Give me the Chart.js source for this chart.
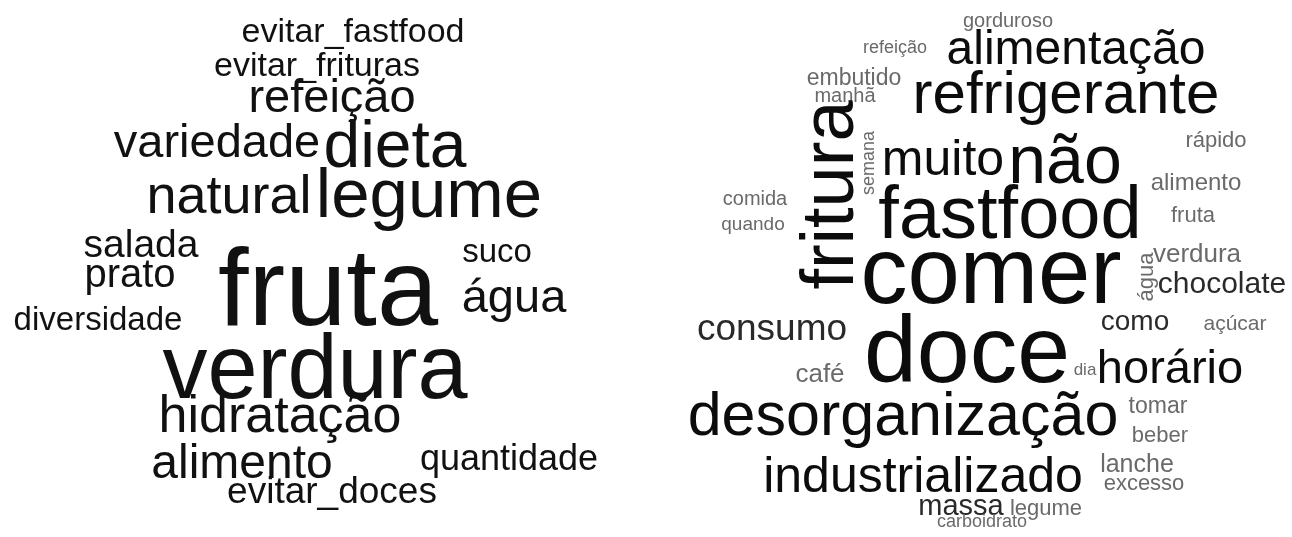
<!DOCTYPE html>
<html>
<head>
<meta charset="utf-8">
<script src="https://cdn.jsdelivr.net/npm/chart.js@4"></script>
<style>
  html, body { margin: 0; padding: 0; background: #fff; }
  #wrap { width: 1292px; height: 537px; }
</style>
</head>
<body>
<div id="wrap"><canvas id="cloud" width="1292" height="537"></canvas></div>
<script>
// left cloud: words, weight (font px), layout position (x = centre, y = baseline)
const leftWords = ["evitar_fastfood", "evitar_frituras", "refeição", "variedade", "dieta", "natural", "legume",
  "salada", "suco", "prato", "fruta", "água", "diversidade", "verdura", "hidratação", "alimento",
  "quantidade", "evitar_doces"];
const leftWeight = [34, 34, 47, 47, 66, 54, 69, 39, 33, 40, 110, 47, 33, 90, 52, 48, 36, 37];
const leftX = [353, 317, 332, 217, 395, 229, 429, 141, 497, 130, 328, 514, 98, 315, 280, 242, 509, 332];
const leftY = [42, 76, 112, 157, 167, 213, 217, 257, 262, 287, 325, 312, 330, 398, 432, 478, 470, 503];

// right cloud
const rightWords = ["gorduroso", "refeição", "alimentação", "embutido", "manhã", "refrigerante", "fritura",
  "semana", "muito", "não", "rápido", "alimento", "comida", "fastfood", "fruta", "quando", "verdura",
  "comer", "água", "chocolate", "consumo", "como", "açúcar", "café", "doce", "dia", "horário",
  "desorganização", "tomar", "beber", "industrializado", "lanche", "excesso", "massa", "legume", "carboidrato"];
const rightWeight = [20, 18, 48, 23, 20, 60, 74, 18, 50, 68, 22, 24, 20, 74, 22, 19, 26,
  94, 22, 30, 37, 28, 21, 26, 95, 17, 47, 61, 23, 22, 50, 25, 22, 29, 22, 18];
const rightX = [1008, 895, 1076, 854, 845, 1066, 853, 874, 943, 1065, 1216, 1196, 755, 1010, 1193, 753, 1197,
  991, 1153, 1222, 772, 1135, 1235, 820, 967, 1085, 1170, 903, 1158, 1160, 923, 1137, 1144, 961, 1046, 982];
const rightY = [27, 53, 64, 85, 102, 113, 195, 163, 175, 183, 147, 190, 205, 238, 222, 230, 262,
  303, 277, 293, 340, 330, 330, 382, 382, 375, 383, 435, 413, 442, 492, 472, 490, 515, 515, 527];
const rightVertical = ["fritura", "semana", "água"];

const FONT = '"Liberation Sans", Arial, sans-serif';

function rightShade(w) {
  if (w < 27) return "#6a6a6a";
  if (w < 40) return "#2a2a2a";
  return "#0c0c0c";
}

const wordPlugin = {
  id: "words",
  afterDatasetsDraw(chart) {
    const ctx = chart.ctx;
    chart.data.datasets.forEach((ds, di) => {
      const meta = chart.getDatasetMeta(di);
      meta.data.forEach((pt, i) => {
        const item = ds.data[i];
        ctx.save();
        ctx.translate(pt.x, pt.y);
        if (item.vertical) ctx.rotate(-Math.PI / 2);
        ctx.font = item.w + "px " + FONT;
        ctx.fillStyle = item.color;
        ctx.textAlign = "center";
        ctx.textBaseline = "alphabetic";
        ctx.fillText(item.word, 0, 0);
        ctx.restore();
      });
    });
  }
};

const leftData = leftWords.map((word, i) => ({
  x: leftX[i], y: leftY[i], word: word, w: leftWeight[i], color: "#111111", vertical: false
}));
const rightData = rightWords.map((word, i) => ({
  x: rightX[i], y: rightY[i], word: word, w: rightWeight[i], color: rightShade(rightWeight[i]),
  vertical: rightVertical.includes(word)
}));

new Chart(document.getElementById("cloud"), {
  type: "scatter",
  data: {
    datasets: [
      { label: "orientações", data: leftData, pointRadius: 0, pointHoverRadius: 0 },
      { label: "dificuldades", data: rightData, pointRadius: 0, pointHoverRadius: 0 }
    ]
  },
  options: {
    responsive: false,
    animation: false,
    layout: { padding: 0 },
    plugins: { legend: { display: false }, tooltip: { enabled: false } },
    scales: {
      x: { type: "linear", min: 0, max: 1292, display: false },
      y: { type: "linear", min: 0, max: 537, reverse: true, display: false }
    }
  },
  plugins: [wordPlugin]
});
</script>
</body>
</html>
